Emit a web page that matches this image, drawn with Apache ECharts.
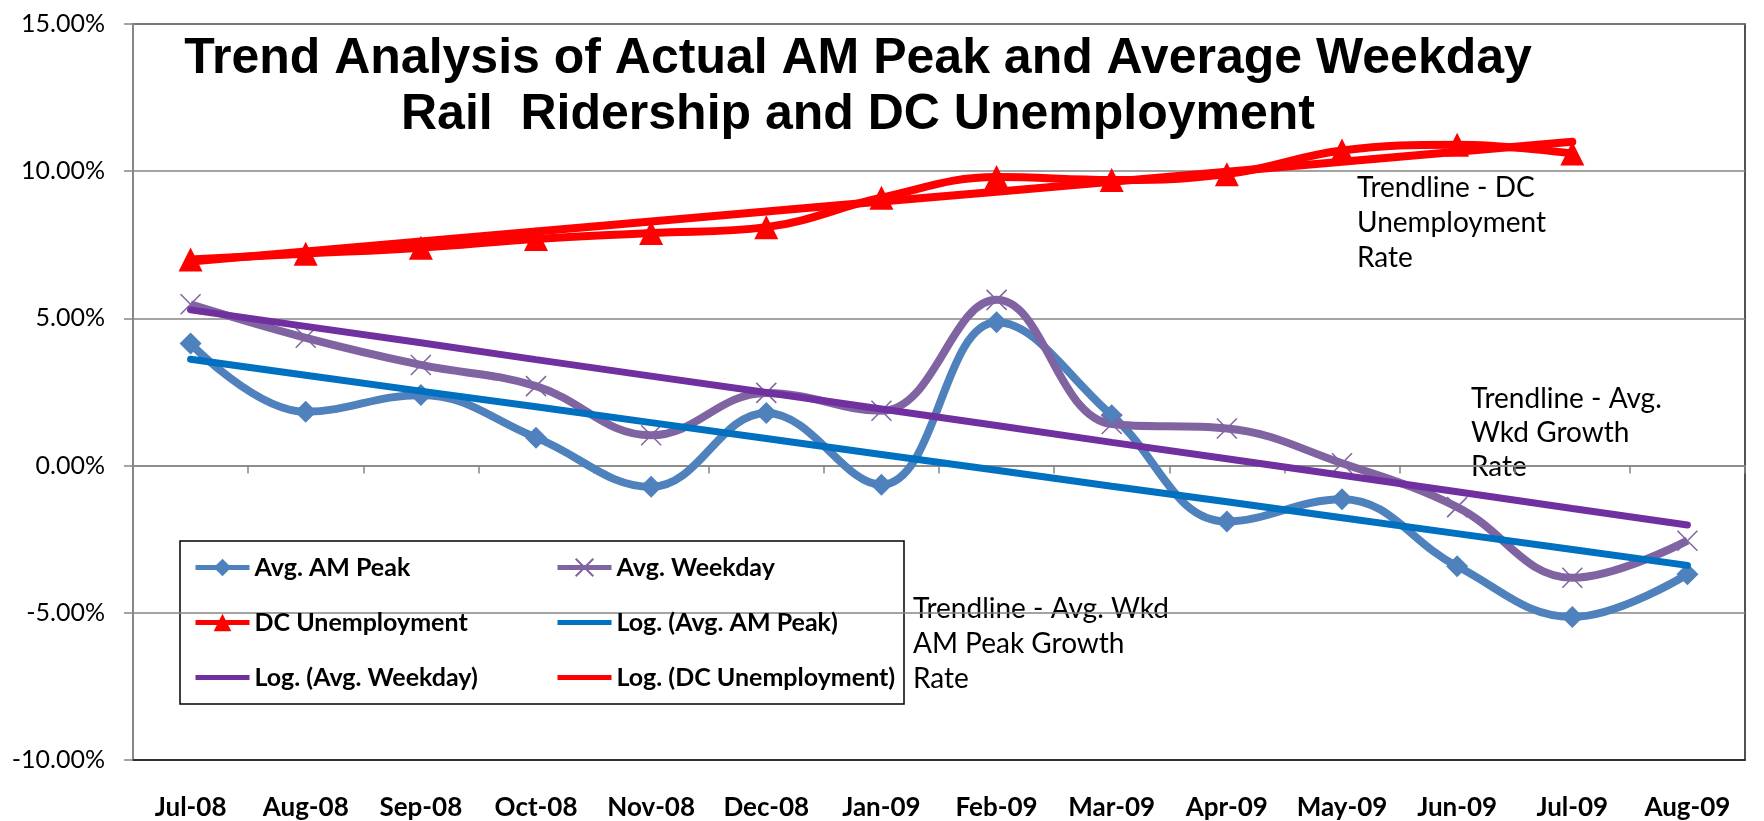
<!DOCTYPE html>
<html>
<head>
<meta charset="utf-8">
<script src="https://cdn.jsdelivr.net/npm/echarts@6/dist/echarts.min.js"></script>
<style>
html, body { margin: 0; padding: 0; background: #fff; }
#main { width: 1764px; height: 821px; }
</style>
</head>
<body>
<div id="main"></div>
<script>
var months = ['Jul-08', 'Aug-08', 'Sep-08', 'Oct-08', 'Nov-08', 'Dec-08', 'Jan-09',
	'Feb-09', 'Mar-09', 'Apr-09', 'May-09', 'Jun-09', 'Jul-09', 'Aug-09'];
var yTicks = [-10, -5, 0, 5, 10, 15];

// growth rates in percent
var amPeak = [4.15, 1.83, 2.4, 0.95, -0.72, 1.79, -0.65, 4.87, 1.71, -1.9, -1.14, -3.42, -5.14, -3.69];
var avgWeekday = [5.48, 4.34, 3.42, 2.7, 1.03, 2.47, 1.86, 5.63, 1.41, 1.26, 0.08, -1.41, -3.81, -2.55];
var dcUnemp = [7.0, 7.2, 7.4, 7.7, 7.9, 8.1, 9.1, 9.8, 9.7, 9.9, 10.7, 10.9, 10.6];

// excel log trendlines
var logAmPeak = [3.61, 3.07, 2.53, 2.0, 1.46, 0.92, 0.38, -0.16, -0.7, -1.23, -1.77, -2.31, -2.85, -3.39];
var logWeekday = [5.29, 4.73, 4.17, 3.6, 3.04, 2.48, 1.92, 1.36, 0.79, 0.23, -0.33, -0.89, -1.46, -2.02];
var logDcUnemp = [6.93, 7.27, 7.61, 7.95, 8.29, 8.63, 8.97, 9.3, 9.64, 9.98, 10.32, 10.66, 11.0];

var bodyFont = 'Lato, "Open Sans", sans-serif';
var titleFont = 'bold 50px "Liberation Sans", Arial, sans-serif';
var xMark = 'path://M0,0L10,10M10,0L0,10';
var barIcon = 'path://M0,0L54,0L54,5L0,5Z';

var chart = echarts.init(document.getElementById('main'));

function actual(name, data, color, symbol, size, width){
	return {
		name: name,
		type: 'line',
		data: data,
		smooth: 0.4,
		symbol: symbol,
		symbolSize: size,
		showAllSymbol: true,
		lineStyle: {color: color, width: width},
		itemStyle: {color: color, borderColor: color, borderWidth: symbol == xMark ? 1.5 : 0},
		z: 3
	};
}

function trend(name, data, color, width){
	return {
		name: name,
		type: 'line',
		data: data,
		symbol: 'none',
		lineStyle: {color: color, width: width, cap: 'round'},
		itemStyle: {color: color},
		z: 4
	};
}

var legendText = {fontFamily: bodyFont, fontWeight: 'bold', fontSize: 25, color: '#000', lineHeight: 25};

var option = {
	animation: false,
	backgroundColor: '#fff',
	grid: {
		left: 133, right: 19, top: 24, bottom: 61,
		show: true, borderColor: '#1a1a1a', borderWidth: 1.5
	},
	legend: [{
		data: ['Avg. AM Peak', 'DC Unemployment', {name: 'Log. (Avg. Weekday)', icon: barIcon}],
		orient: 'vertical', left: 193, top: 555, padding: 0,
		itemWidth: 54, itemHeight: 22, itemGap: 30,
		lineStyle: {width: 5},
		textStyle: legendText
	}, {
		data: ['Avg. Weekday', {name: 'Log. (Avg. AM Peak)', icon: barIcon}, {name: 'Log. (DC Unemployment)', icon: barIcon}],
		orient: 'vertical', left: 555, top: 555, padding: 0,
		itemWidth: 54, itemHeight: 22, itemGap: 30,
		lineStyle: {width: 5},
		textStyle: legendText
	}],
	xAxis: [{
		type: 'category',
		data: months,
		position: 'bottom',
		boundaryGap: true,
		axisLine: {onZero: false, lineStyle: {color: '#1a1a1a', width: 1.5}},
		axisTick: {show: false},
		axisLabel: {
			margin: 35, interval: 0,
			fontFamily: bodyFont, fontWeight: 'bold', fontSize: 26, color: '#000'
		}
	}, {
		// axis line and ticks sitting on the 0% gridline
		type: 'category',
		data: months,
		position: 'bottom',
		boundaryGap: true,
		axisLine: {onZero: true, lineStyle: {color: '#868686', width: 1.5}},
		axisTick: {show: true, length: 8, lineStyle: {color: '#868686', width: 1.5}},
		axisLabel: {show: false}
	}],
	yAxis: {
		type: 'value',
		min: yTicks[0], max: yTicks[yTicks.length - 1], interval: 5,
		axisLine: {show: true, lineStyle: {color: '#868686', width: 2}},
		axisTick: {show: true, length: 9, lineStyle: {color: '#868686', width: 1.5}},
		splitLine: {lineStyle: {color: '#868686', width: 1.5}},
		axisLabel: {
			margin: 28,
			fontFamily: bodyFont, fontSize: 25, color: '#000',
			formatter: function(v){ return v.toFixed(2) + '%'; }
		}
	},
	graphic: [{
		type: 'rect',
		shape: {x: 180, y: 541, width: 724, height: 163},
		style: {fill: '#fff', stroke: '#000', lineWidth: 1.5},
		z: 0, zlevel: 0
	}, {
		type: 'text', x: 858, y: 59,
		style: {text: 'Trend Analysis of Actual AM Peak and Average Weekday', align: 'center', verticalAlign: 'middle',
			font: titleFont, fill: '#000'}
	}, {
		type: 'text', x: 858, y: 115,
		style: {text: 'Rail  Ridership and DC Unemployment', align: 'center', verticalAlign: 'middle',
			font: titleFont, fill: '#000'}
	}, {
		type: 'text', x: 1357, y: 170,
		style: {text: 'Trendline - DC\nUnemployment\nRate', lineHeight: 35, verticalAlign: 'top',
			font: '28px ' + bodyFont, fill: '#000'}
	}, {
		type: 'text', x: 1471, y: 382,
		style: {text: 'Trendline - Avg.\nWkd Growth\nRate', lineHeight: 34, verticalAlign: 'top',
			font: '28px ' + bodyFont, fill: '#000'}
	}, {
		type: 'text', x: 913, y: 591,
		style: {text: 'Trendline - Avg. Wkd\nAM Peak Growth\nRate', lineHeight: 35, verticalAlign: 'top',
			font: '28px ' + bodyFont, fill: '#000'}
	}],
	series: [
		actual('Avg. AM Peak', amPeak, '#4F81BD', 'diamond', 22, 8),
		actual('Avg. Weekday', avgWeekday, '#8064A2', xMark, 20, 8),
		actual('DC Unemployment', dcUnemp, '#FF0000', 'triangle', 24, 8),
		trend('Log. (Avg. AM Peak)', logAmPeak, '#0070C0', 7),
		trend('Log. (Avg. Weekday)', logWeekday, '#7030A0', 7),
		trend('Log. (DC Unemployment)', logDcUnemp, '#FF0000', 8)
	]
};

chart.setOption(option);
</script>
</body>
</html>
